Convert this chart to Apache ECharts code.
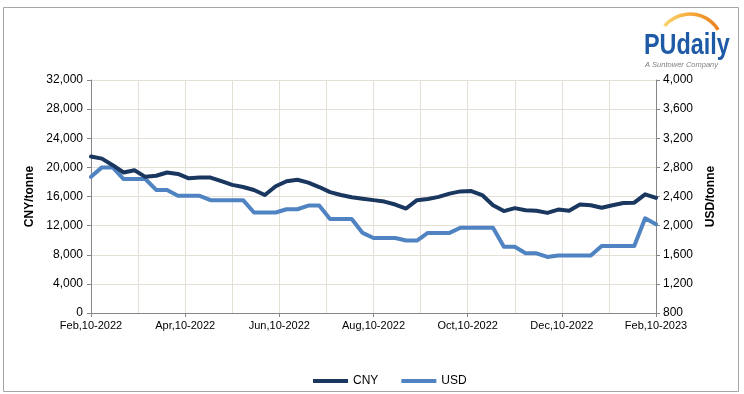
<!DOCTYPE html>
<html>
<head>
<meta charset="utf-8">
<script src="https://cdn.jsdelivr.net/npm/echarts@6/dist/echarts.min.js"></script>
<style>
html,body{margin:0;padding:0;background:#fff;}
#chart{width:744px;height:394px;}
</style>
</head>
<body>
<div id="chart"></div>
<script>
// Weekly data, Feb 10 2022 .. Feb 10 2023 (53 weeks)
var tickLabels = ['Feb,10-2022','Apr,10-2022','Jun,10-2022','Aug,10-2022','Oct,10-2022','Dec,10-2022','Feb,10-2023'];
var seriesNames = ['CNY','USD'];
var cny = [21500,21200,20300,19300,19600,18700,18850,19300,19100,18500,18600,18600,18100,17600,17300,16900,16200,17400,18100,18300,17900,17300,16600,16200,15900,15700,15500,15300,14900,14350,15500,15650,15950,16400,16700,16750,16200,14800,14000,14400,14100,14050,13750,14200,14050,14900,14800,14450,14800,15100,15150,16300,15800];
var usd = [2670,2800,2800,2640,2640,2640,2490,2490,2410,2410,2410,2350,2350,2350,2350,2180,2180,2180,2225,2225,2275,2275,2090,2090,2090,1900,1830,1830,1830,1795,1795,1900,1900,1900,1970,1970,1970,1970,1710,1710,1620,1620,1570,1590,1590,1590,1590,1720,1720,1720,1720,2100,2020];

var FONT = 'Liberation Sans, Arial, sans-serif';
var GRID = '#e4dfd7';
var AXIS = '#868686';
function thousands(v){ return String(Math.round(v)).replace(/\B(?=(\d{3})+(?!\d))/g, ','); }
var nWeeks = cny.length - 1;
var labelStep = nWeeks / (tickLabels.length - 1);

var chart = echarts.init(document.getElementById('chart'), null, {renderer:'canvas'});
chart.setOption({
  animation: false,
  textStyle: {fontFamily: FONT},
  grid: {left: 91, right: 88, top: 80, bottom: 81, containLabel: false},
  legend: {
    data: seriesNames, left: 308, top: 370, icon: 'rect',
    itemWidth: 35, itemHeight: 4, itemGap: 23,
    textStyle: {fontSize: 12, color: '#000', fontFamily: FONT}
  },
  xAxis: {
    type: 'value', min: 0, max: nWeeks, interval: labelStep,
    axisLine: {show: true, lineStyle: {color: AXIS, width: 1}},
    axisTick: {show: true, length: 4, lineStyle: {color: AXIS}},
    axisLabel: {
      showMinLabel: true, showMaxLabel: true, fontSize: 11, color: '#000', margin: 7, fontFamily: FONT,
      formatter: function(v){ return tickLabels[Math.round(v / labelStep)]; }
    },
    splitLine: {show: true, lineStyle: {color: GRID, width: 1}},
    minorTick: {show: false, splitNumber: 2},
    minorSplitLine: {show: true, lineStyle: {color: GRID, width: 1}}
  },
  yAxis: [{
    type: 'value', min: 0, max: 32000, interval: 4000, position: 'left',
    name: 'CNY/tonne', nameLocation: 'middle', nameGap: 55, nameRotate: 90,
    nameTextStyle: {fontWeight: 'bold', fontSize: 12, color: '#000', fontFamily: FONT},
    axisLine: {show: true, lineStyle: {color: AXIS}},
    axisTick: {show: true, length: 4, lineStyle: {color: AXIS}},
    axisLabel: {fontSize: 12, color: '#000', margin: 8, formatter: thousands, fontFamily: FONT},
    splitLine: {show: true, lineStyle: {color: GRID, width: 1}}
  },{
    type: 'value', min: 800, max: 4000, interval: 400, position: 'right',
    name: 'USD/tonne', nameLocation: 'middle', nameGap: 49, nameRotate: 90,
    nameTextStyle: {fontWeight: 'bold', fontSize: 12, color: '#000', fontFamily: FONT},
    axisLine: {show: true, lineStyle: {color: AXIS}},
    axisTick: {show: true, length: 4, lineStyle: {color: AXIS}},
    axisLabel: {fontSize: 12, color: '#000', margin: 7, formatter: thousands, fontFamily: FONT},
    splitLine: {show: false}
  }],
  series: [{
    name: 'CNY', type: 'line', yAxisIndex: 0, showSymbol: false, symbol: 'none',
    data: cny.map(function(v,i){ return [i, v]; }),
    itemStyle: {color: '#1a3760'},
    lineStyle: {color: '#1a3760', width: 4, join: 'round', cap: 'round'},
    z: 3
  },{
    name: 'USD', type: 'line', yAxisIndex: 1, showSymbol: false, symbol: 'none',
    data: usd.map(function(v,i){ return [i, v]; }),
    itemStyle: {color: '#5083c1'},
    lineStyle: {color: '#5083c1', width: 4, join: 'round', cap: 'round'},
    z: 2
  }],
  graphic: [
    {type: 'rect', shape: {x: 3.5, y: 7.5, width: 735, height: 384}, style: {fill: 'none', stroke: '#a6a6a6', lineWidth: 1}, silent: true},
    {type: 'arc', shape: {cx: 690, cy: 47, r: 33, startAngle: -2.45, endAngle: -0.55, clockwise: true},
      style: {fill: 'none', lineWidth: 3.5, stroke: {type: 'linear', x: 0, y: 0, x2: 1, y2: 0, colorStops: [{offset: 0, color: '#fbd873'}, {offset: 0.5, color: '#f5a83a'}, {offset: 1, color: '#ea7d1c'}]}}, silent: true},
    {type: 'text', x: 644, y: 46, scaleX: 0.78,
      style: {text: 'PUdaily', x: 0, y: 0, font: 'bold 30px Liberation Sans, Arial, sans-serif', fill: '#1f5aa6', align: 'left', verticalAlign: 'middle', textAlign: 'left', textVerticalAlign: 'middle'}, silent: true},
    {type: 'text', x: 681.5, y: 64.5,
      style: {text: 'A Suntower Company', x: 0, y: 0, font: 'italic 7.5px Liberation Sans, Arial, sans-serif', fill: '#7f7f7f', align: 'center', verticalAlign: 'middle', textAlign: 'center', textVerticalAlign: 'middle'}, silent: true}
  ]
});
</script>
</body>
</html>
